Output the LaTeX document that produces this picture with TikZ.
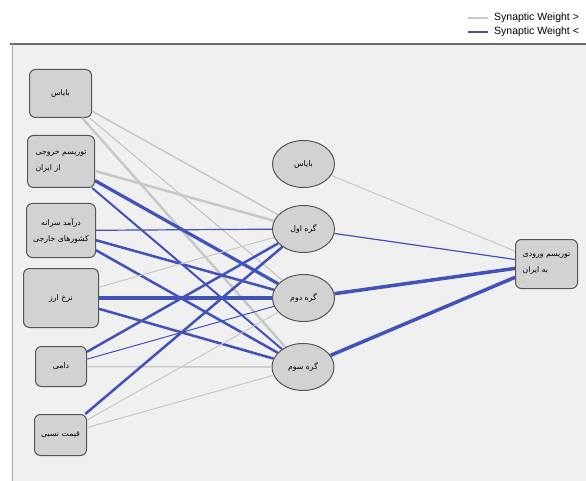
\documentclass[tikz,border=0pt]{standalone}
\usepackage{fontspec}
\setmainfont{Liberation Sans}
\newfontfamily\arabicfont[Script=Arabic]{DejaVu Sans}
\TeXXeTstate=1
\usetikzlibrary{shapes.geometric}
\definecolor{framebg}{HTML}{F0F0F0}
\definecolor{framedark}{HTML}{6A6A6A}
\definecolor{frameside}{HTML}{A8A8A8}
\definecolor{nodefill}{HTML}{D2D2D2}
\definecolor{nodeedge}{HTML}{555555}
\definecolor{linegrey}{HTML}{C8C8C8}
\definecolor{lineblue}{HTML}{4152B8}
\tikzset{
    unit/.style={draw=nodeedge, fill=nodefill, line width=1pt, inner sep=1pt,
        font=\arabicfont\fontsize{7.8}{16}\selectfont},
    inbox/.style={unit, rectangle, rounded corners=6pt},
    hidunit/.style={unit, ellipse, minimum width=62pt, minimum height=47pt},
    wgrey/.style={draw=linegrey},
    wblue/.style={draw=lineblue},
    legtext/.style={anchor=west, inner sep=0pt, font=\fontsize{10.5}{12}\selectfont}
}
\begin{document}
\begin{tikzpicture}[line cap=butt, line join=round, x=1pt, y=-1pt]
                \useasboundingbox (0, 0) rectangle (586, 481);
                \fill[framebg] (12, 44) rectangle (586, 481);
                \draw[framedark, line width=1.5pt] (10, 44) -- (586, 44);
                \draw[frameside, line width=1pt] (12, 44) -- (12, 481);
                % legend
                \node[legtext] (lgpos) at (494, 18) {Synaptic Weight >};
                \node[legtext] (lgneg) at (494, 32) {Synaptic Weight <};
                \draw[wgrey, line width=1.2pt] (468, 18) -- (488, 18);
                \draw[wblue, line width=1.2pt] (468, 32) -- (488, 32);
                % input layer
                \node[inbox, minimum width=62pt, minimum height=48pt] (bi) at (60.5, 93.5) {\beginR بایاس\endR};
                \node[inbox, minimum width=67pt, minimum height=52pt, align=left] (tout) at (61, 161.5) {\beginR توریسم خروجی\endR\\\beginR از ایران\endR};
                \node[inbox, minimum width=69pt, minimum height=54pt, align=center] (inc) at (61, 230.5) {\beginR درآمد سرانه\endR\\\beginR کشورهای خارجی\endR};
                \node[inbox, minimum width=75pt, minimum height=59pt] (rate) at (61, 298) {\beginR نرخ ارز\endR};
                \node[inbox, minimum width=51pt, minimum height=40pt] (dum) at (61, 366.5) {\beginR دامی\endR};
                \node[inbox, minimum width=52pt, minimum height=41pt] (price) at (60.5, 435) {\beginR قیمت نسبی\endR};
                % hidden layer
                \node[hidunit] (hb) at (303.5, 164) {\beginR بایاس\endR};
                \node[hidunit] (h1) at (303.5, 229) {\beginR گره اول\endR};
                \node[hidunit] (h2) at (303.5, 298) {\beginR گره دوم\endR};
                \node[hidunit] (h3) at (303, 367) {\beginR گره سوم\endR};
                % output layer
                \node[inbox, minimum width=62pt, minimum height=49pt, align=left] (out) at (546.5, 264) {\beginR توریسم ورودی\endR\\\beginR به ایران\endR};
                % weights
                \foreach \from/\to/\kind/\wd in {bi/h1/wgrey/1.5, bi/h2/wgrey/1.2, bi/h3/wgrey/2.5,
                        tout/h1/wgrey/2.5, tout/h2/wblue/3.2, tout/h3/wblue/2,
                        inc/h1/wblue/1.2, inc/h2/wblue/2.5, inc/h3/wblue/2.5,
                        rate/h1/wgrey/1, rate/h2/wblue/3.5, rate/h3/wblue/2.5,
                        dum/h1/wblue/2.5, dum/h2/wblue/1, dum/h3/wgrey/1.5,
                        price/h1/wblue/2.5, price/h2/wgrey/1, price/h3/wgrey/1,
                        hb/out/wgrey/1, h1/out/wblue/1.2, h2/out/wblue/3.5, h3/out/wblue/3.5}
                    \draw[\kind, line width=\wd pt] (\from) -- (\to);
            \end{tikzpicture}
\end{document}
